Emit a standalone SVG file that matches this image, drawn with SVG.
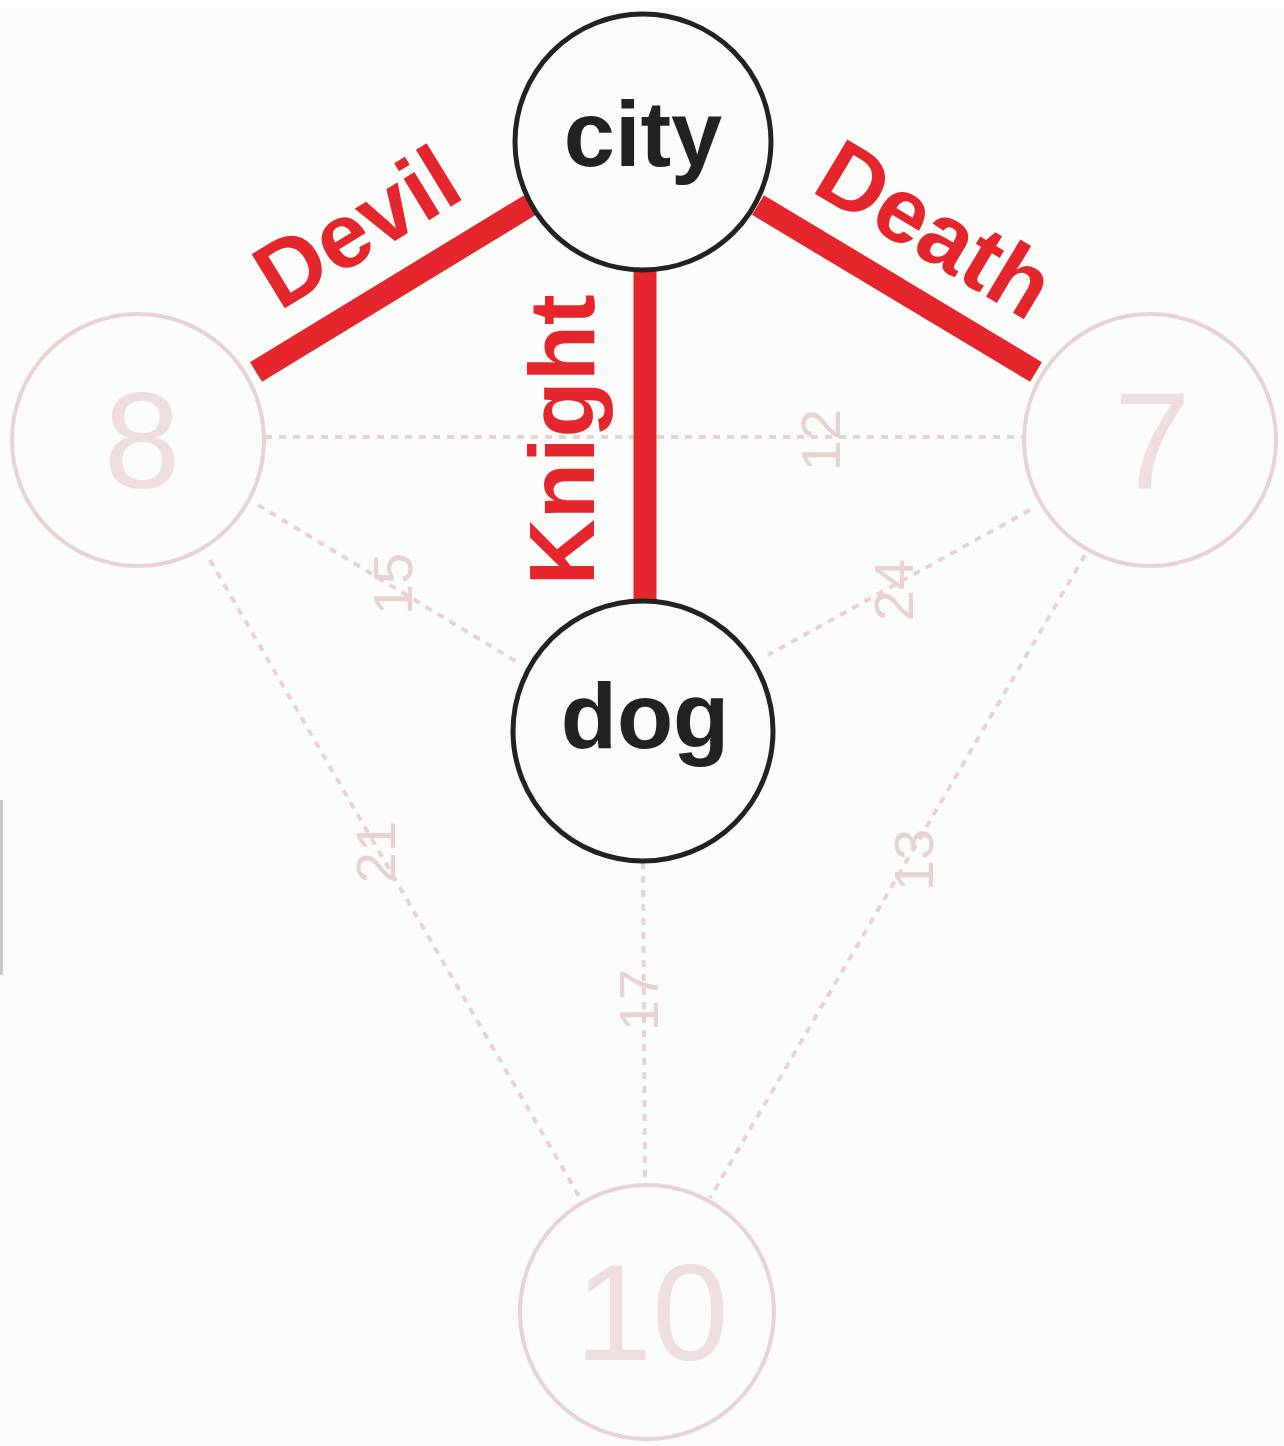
<svg xmlns="http://www.w3.org/2000/svg" width="1284" height="1446" viewBox="0 0 1284 1446">
<style>
.bg{fill:#fafcfa}
.faint{fill:none;stroke:#e8d2d2;stroke-width:4;stroke-dasharray:7 7}
.fnode{fill:#fafcfa;stroke:#e8d2d2;stroke-width:4}
.ftext{font-family:"Liberation Sans",Arial,sans-serif;font-size:138px;fill:#efdede;text-anchor:middle}
.flabel{font-family:"Liberation Sans",Arial,sans-serif;font-size:56px;fill:#e8d2d2;text-anchor:middle}
.red{stroke:#e5272d;stroke-width:23;fill:none}
.rlabel{font-family:"Liberation Sans",Arial,sans-serif;font-weight:bold;font-size:92px;fill:#e5272d;text-anchor:middle}
.node{fill:#fafcfa;stroke:#222;stroke-width:5}
.ntext{font-family:"Liberation Sans",Arial,sans-serif;font-weight:bold;font-size:92px;fill:#222;text-anchor:middle}
</style>
<rect class="bg" x="0" y="0" width="1284" height="1446"/>
<rect x="0" y="0" width="1284" height="8" fill="#ffffff"/>
<rect x="0" y="800" width="3" height="175" fill="#c8c8c8"/>
<g id="connectors">
  <line class="faint" x1="265" y1="437" x2="1025" y2="437"/>
  <line class="faint" x1="258" y1="505" x2="522" y2="665"/>
  <line class="faint" x1="1030" y1="510" x2="768" y2="655"/>
  <line class="faint" x1="210" y1="560" x2="580" y2="1198"/>
  <line class="faint" x1="1085" y1="555" x2="710" y2="1198"/>
  <line class="faint" x1="643" y1="862" x2="645" y2="1185"/>
  <text class="flabel" transform="translate(392,584) rotate(-90)" x="0" y="20">15</text>
  <text class="flabel" transform="translate(820,440) rotate(-90)" x="0" y="20">12</text>
  <text class="flabel" transform="translate(893,590) rotate(-90)" x="0" y="20">24</text>
  <text class="flabel" transform="translate(375,852) rotate(-90)" x="0" y="20">21</text>
  <text class="flabel" transform="translate(913,860) rotate(-90)" x="0" y="20">13</text>
  <text class="flabel" transform="translate(638,1000) rotate(-90)" x="0" y="20">17</text>
  <line class="red" x1="256" y1="372" x2="530" y2="205"/>
  <line class="red" x1="758" y1="205" x2="1036" y2="372"/>
  <line class="red" x1="645" y1="268" x2="645" y2="604"/>
  <text class="rlabel" transform="translate(356,226) rotate(-31.5)" x="0" y="33">Devil</text>
  <text class="rlabel" transform="translate(936,228) rotate(31)" x="0" y="33">Death</text>
  <text class="rlabel" transform="translate(561,440) rotate(-90)" x="0" y="33">Knight</text>
</g>
<g id="node-8">
  <circle class="fnode" cx="138" cy="440" r="126"/>
  <text class="ftext" x="142" y="488">8</text>
</g>
<g id="node-7">
  <circle class="fnode" cx="1150" cy="440" r="126"/>
  <text class="ftext" x="1152" y="488">7</text>
</g>
<g id="node-10">
  <circle class="fnode" cx="647" cy="1312" r="127"/>
  <text class="ftext" x="652" y="1360">10</text>
</g>
<g id="node-city">
  <circle class="node" cx="643" cy="142" r="128"/>
  <text class="ntext" x="643" y="166">city</text>
</g>
<g id="node-dog">
  <circle class="node" cx="643" cy="731" r="130"/>
  <text class="ntext" x="645" y="748">dog</text>
</g>
</svg>
